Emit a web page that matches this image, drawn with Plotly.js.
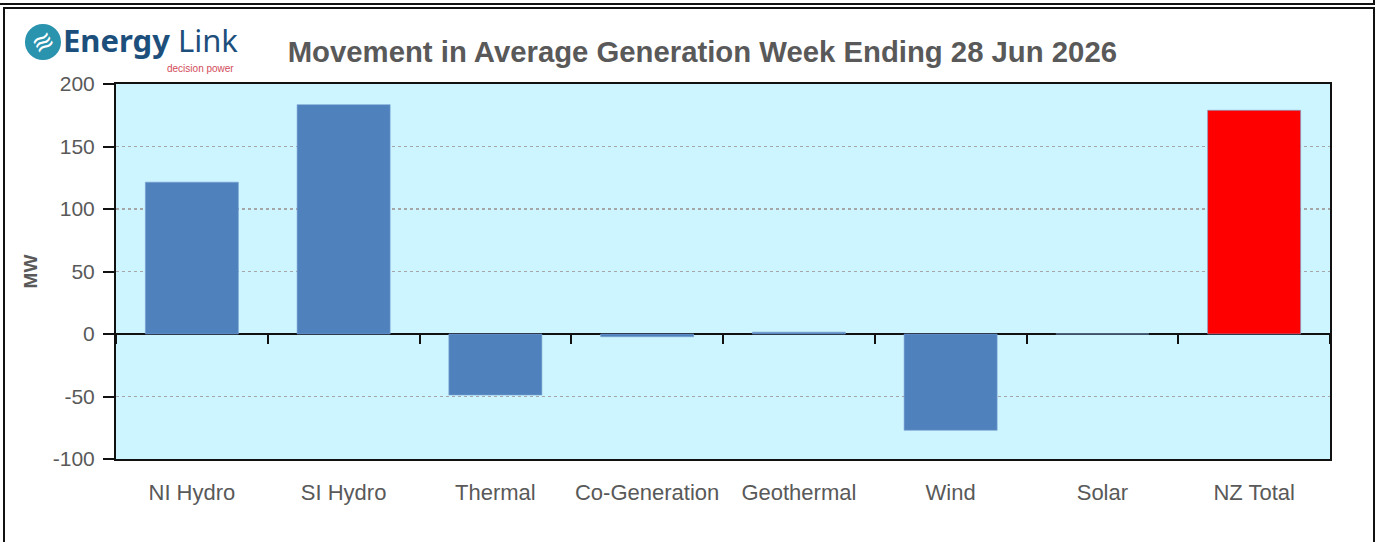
<!DOCTYPE html>
<html>
<head>
<meta charset="utf-8">
<script src="https://cdn.plot.ly/plotly-3.0.1.min.js"></script>
<style>
  html, body { margin: 0; padding: 0; background: #fff; overflow: hidden; }
  #topline { position: absolute; left: 0; top: 0; width: 1373px; height: 3px; border-bottom: 2px solid #111; border-right: 2px solid #111; }
  #frame { position: absolute; left: 3px; top: 7px; width: 1368px; height: 560px; border: 2px solid #111; }
  #chart { position: absolute; left: 0; top: 0; width: 1378px; height: 542px; }
</style>
</head>
<body>
<div id="topline"></div>
<div id="frame"></div>
<div id="chart"></div>
<script>
const categories = ["NI Hydro", "SI Hydro", "Thermal", "Co-Generation", "Geothermal", "Wind", "Solar", "NZ Total"];
const movementMW = [121.5, 183.5, -48.8, -2.2, 1.5, -77, 0.1, 179];
const barColors = ["#4F81BD", "#4F81BD", "#4F81BD", "#4F81BD", "#4F81BD", "#4F81BD", "#4F81BD", "#FF0000"];
const yTickValues = [-100, -50, 0, 50, 100, 150, 200];
const yTickText = ["-100", "-50", "0", "50", "100", "150", "200"];

const grey = "#595959";
const font = "Liberation Sans, Arial, sans-serif";
const yRange = [-100, 200];

const bars = {
  type: "bar",
  x: categories,
  y: movementMW,
  marker: { color: barColors, line: { color: "rgba(120,160,210,0.6)", width: 1 } },
  hoverinfo: "x+y"
};

// invisible helper on the overlaid axis that carries the category-boundary ticks on the zero line
const tickCarrier = {
  type: "scatter",
  mode: "markers",
  x: categories,
  y: movementMW,
  xaxis: "x2",
  marker: { opacity: 0, size: 1 },
  hoverinfo: "skip",
  showlegend: false
};

const layout = {
  width: 1378,
  height: 542,
  margin: { l: 116, r: 48, t: 84, b: 83, pad: 0 },
  paper_bgcolor: "rgba(0,0,0,0)",
  plot_bgcolor: "#CCF5FF",
  showlegend: false,
  bargap: 0.387,
  title: {
    text: "<b>Movement in Average Generation Week Ending 28 Jun 2026</b>",
    font: { family: font, size: 29.3, color: grey },
    x: 0.483, xanchor: "center", xref: "paper",
    y: 0.904, yanchor: "middle", yref: "container"
  },
  xaxis: {
    type: "category",
    categoryorder: "array",
    categoryarray: categories,
    range: [-0.5, 7.5],
    showline: true, linecolor: "#111", linewidth: 2, mirror: true,
    ticks: "", showgrid: false, zeroline: false,
    ticklabelstandoff: 13,
    tickfont: { family: font, size: 22, color: grey }
  },
  xaxis2: {
    type: "category",
    categoryorder: "array",
    categoryarray: categories,
    overlaying: "x",
    anchor: "free",
    position: (0 - yRange[0]) / (yRange[1] - yRange[0]),
    side: "bottom",
    range: [-0.5, 7.5],
    tickson: "boundaries",
    ticks: "outside", ticklen: 9, tickwidth: 2, tickcolor: "#111",
    showticklabels: false, showline: false, showgrid: false, zeroline: false
  },
  yaxis: {
    range: yRange,
    tickvals: yTickValues,
    ticktext: yTickText,
    ticks: "outside", ticklen: 11, tickwidth: 2, tickcolor: "#111",
    showline: true, linecolor: "#111", linewidth: 2, mirror: true,
    showgrid: true, gridcolor: "#A6A6A6", gridwidth: 1.5, griddash: "dot",
    zeroline: true, zerolinecolor: "#111", zerolinewidth: 2,
    tickfont: { family: font, size: 21, color: grey },
    ticklabelstandoff: 4,
    title: { text: "<b>MW</b>", font: { family: font, size: 19, color: grey }, standoff: 10 }
  },
  shapes: [
    { type: "circle", xref: "paper", yref: "paper", x0: -0.0750, x1: -0.0453, y0: 1.064, y1: 1.160,
      fillcolor: "#2A93AE", line: { width: 0 } }
  ],
  annotations: [
    { text: "≋", xref: "paper", yref: "paper", x: -0.0602, y: 1.112, xanchor: "center", yanchor: "middle",
      showarrow: false, textangle: -30, font: { family: "DejaVu Sans", size: 26, color: "#ffffff" } },
    { text: "<b>Energy</b> Link", xref: "paper", yref: "paper", x: -0.0455, y: 1.117, xanchor: "left", yanchor: "middle",
      showarrow: false, font: { family: "Noto Sans, sans-serif", size: 31, color: "#1D4F7C" } },
    { text: "decision power", xref: "paper", yref: "paper", x: 0.0985, y: 1.042, xanchor: "right", yanchor: "middle",
      showarrow: false, font: { family: font, size: 10, color: "#D24B5A" } }
  ]
};

Plotly.newPlot("chart", [bars, tickCarrier], layout, { displayModeBar: false, staticPlot: true });
</script>
</body>
</html>
